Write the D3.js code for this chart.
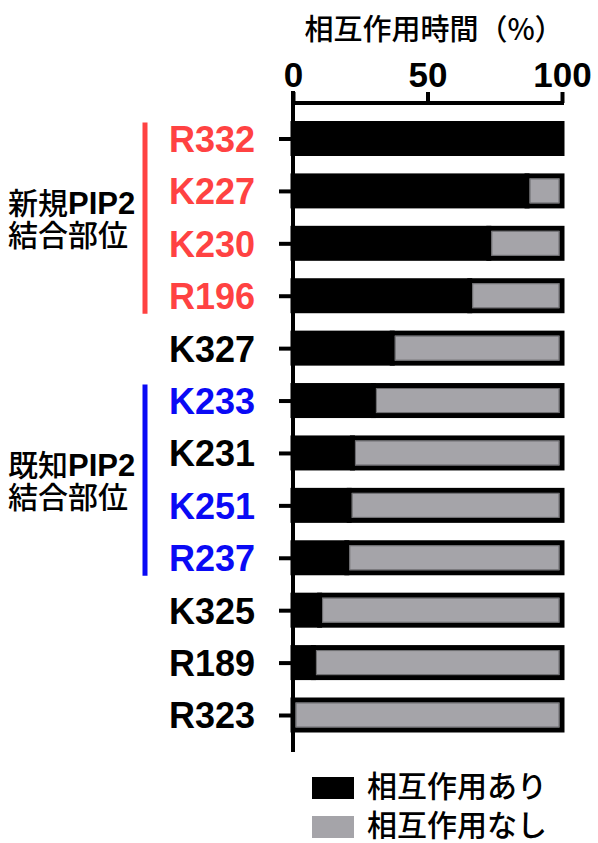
<!DOCTYPE html>
<html><head><meta charset="utf-8">
<script src="https://cdn.jsdelivr.net/npm/d3@7"></script>
<style>body{margin:0;background:#fff}svg{display:block}</style>
</head><body>
<svg id="c" width="598" height="843"></svg>
<script>
const categories = ["R332","K227","K230","R196","K327","K233","K231","K251","R237","K325","R189","R323"];
const interaction = [100, 87, 72.8, 65.7, 36.9, 29.9, 22.1, 20.9, 20.0, 9.9, 7.6, 0];
const labelGroup = ["new","new","new","new","none","known","none","known","known","none","none","none"];
const xTicks = [0, 50, 100];
const seriesNames = ["相互作用あり","相互作用なし"];
const groupLabels = [{key:"new", jp:"新規", rest:"結合部位"},{key:"known", jp:"既知", rest:"結合部位"}];

const colors = {new:"#ff4242", known:"#0a0af5", none:"#000"};
const grey = "#a5a4a9";
const svg = d3.select("#c");

const x = d3.scaleLinear().domain([0,100]).range([293,562]);
const y = d3.scalePoint().domain(categories).range([138.5,715]);
const barH = 30;

// title
svg.append("text").attr("x",434).attr("y",40).attr("text-anchor","middle")
  .attr("font-family","'Noto Sans CJK JP'").attr("font-size",29).attr("font-weight",500)
  .text("相互作用時間（%）");

// bars
const g = svg.append("g");
categories.forEach((c,i)=>{
  const v = interaction[i];
  const y0 = y(c)-barH/2;
  g.append("rect").attr("x",x(0)).attr("y",y0).attr("width",x(v)-x(0)).attr("height",barH)
    .attr("fill","#000").attr("stroke","#000").attr("stroke-width",5);
  if (v<100){
    g.append("rect").attr("x",x(v)).attr("y",y0).attr("width",x(100)-x(v)).attr("height",barH)
      .attr("fill",grey).attr("stroke","#000").attr("stroke-width",5);
    g.append("rect").attr("x",x(v)+3).attr("y",y0+3).attr("width",x(100)-x(v)-6).attr("height",barH-6)
      .attr("fill","none").attr("stroke","#6b6b6e").attr("stroke-width",1);
  }
});

// top axis
const ax = svg.append("g").attr("transform","translate(0,103)")
  .call(d3.axisTop(x).tickValues(xTicks).tickSizeInner(11).tickSizeOuter(0).tickPadding(5));
ax.select(".domain").attr("stroke","#000").attr("stroke-width",4).attr("d","M"+(x(0)-2)+",0H"+(x(100)+2));
ax.selectAll(".tick line").attr("stroke","#000").attr("stroke-width",4);
ax.selectAll(".tick text").attr("font-family","'Liberation Sans',Arial").attr("font-weight","bold")
  .attr("font-size",35).attr("fill","#000");

// left axis
svg.append("line").attr("x1",x(0)).attr("x2",x(0)).attr("y1",91).attr("y2",752)
  .attr("stroke","#000").attr("stroke-width",4);
const ay = svg.append("g").attr("transform","translate("+x(0)+",0)")
  .call(d3.axisLeft(y).tickSizeInner(14).tickSizeOuter(0).tickPadding(24));
ay.select(".domain").remove();
ay.selectAll(".tick line").attr("stroke","#000").attr("stroke-width",4);
ay.selectAll(".tick text").attr("font-family","'Liberation Sans',Arial").attr("font-weight","bold")
  .attr("font-size",36).attr("dy","0.36em")
  .attr("fill",(d,i)=>colors[labelGroup[i]]);

// group brackets & labels
groupLabels.forEach(gl=>{
  const idx = categories.map((c,i)=>i).filter(i=>labelGroup[i]===gl.key);
  const top = y(categories[idx[0]])-16, bot = y(categories[idx[idx.length-1]])+18;
  svg.append("line").attr("x1",145).attr("x2",145).attr("y1",top).attr("y2",bot)
    .attr("stroke",colors[gl.key]).attr("stroke-width",5);
  const mid = (y(categories[idx[0]])+y(categories[idx[idx.length-1]]))/2;
  const t = svg.append("text").attr("x",8).attr("y",mid-3)
    .attr("font-family","'Noto Sans CJK JP'").attr("font-size",30).attr("font-weight",500).attr("fill","#000");
  t.append("tspan").text(gl.jp);
  t.append("tspan").attr("font-family","'Liberation Sans',Arial").attr("font-weight","bold").attr("font-size",31).text("PIP2");
  svg.append("text").attr("x",8).attr("y",mid+29)
    .attr("font-family","'Noto Sans CJK JP'").attr("font-size",30).attr("font-weight",500).attr("fill","#000")
    .text(gl.rest);
});

// legend
const lg = svg.append("g");
seriesNames.forEach((s,i)=>{
  lg.append("rect").attr("x",312).attr("y",777+i*39).attr("width",42).attr("height",22)
    .attr("fill",i===0?"#000":grey);
  lg.append("text").attr("x",367).attr("y",797+i*39)
    .attr("font-family","'Noto Sans CJK JP'").attr("font-size",30).attr("font-weight",500).attr("fill","#000")
    .text(s);
});
</script>
</body></html>
